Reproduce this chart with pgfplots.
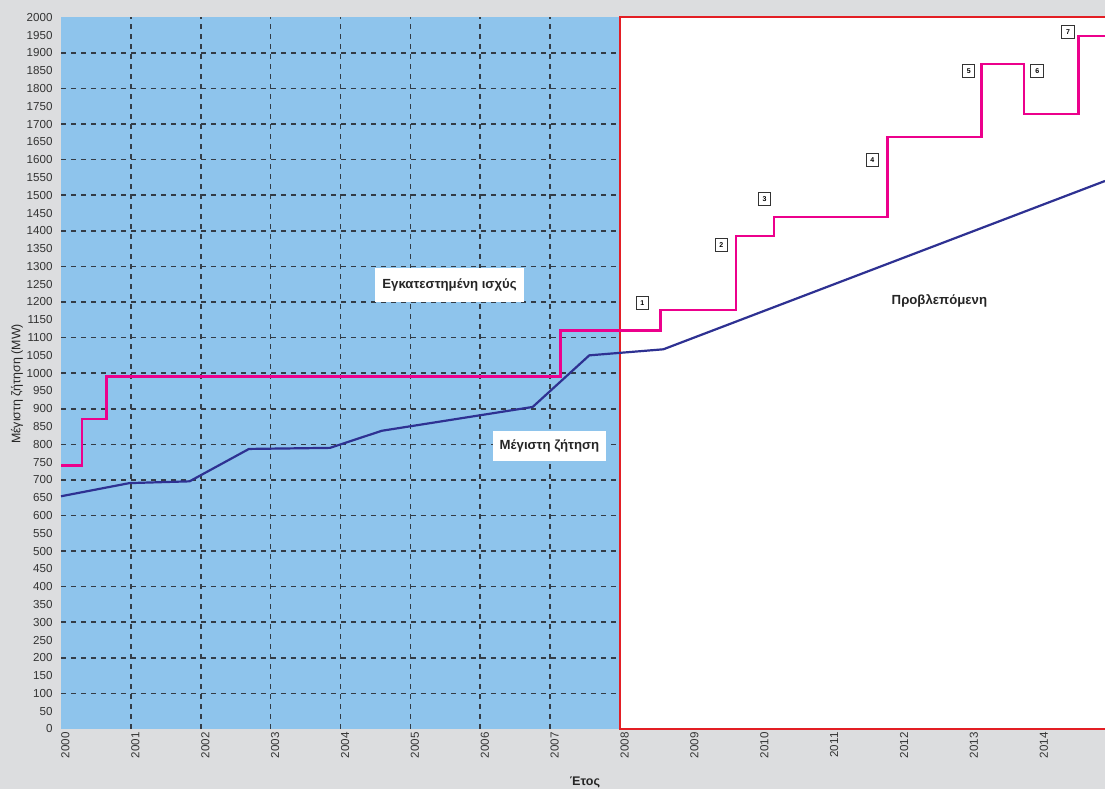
\documentclass[border=0pt]{standalone}
\usepackage{pgfplots}
\pgfplotsset{compat=1.18}
\usepackage{fontspec}
\setmainfont{Liberation Sans}
\definecolor{bggray}{HTML}{DCDDDF}
\definecolor{skyblue}{HTML}{8EC4EC}
\definecolor{pinkc}{HTML}{EC008C}
\definecolor{navyc}{HTML}{2E3192}
\definecolor{redc}{HTML}{E31E24}
\definecolor{gridc}{HTML}{333C46}
\begin{document}
\begin{tikzpicture}[x=1pt,y=1pt]
\path[use as bounding box, fill=bggray] (0,0) rectangle (1105,789);
\begin{axis}[
    at={(61pt,60pt)}, anchor=south west,
    scale only axis, width=1044pt, height=711.7pt,
    xmin=2000, xmax=2014.94, ymin=0, ymax=2000,
    axis line style={draw=none},
    axis background/.style={fill=skyblue},
    xtick={2000,2001,...,2014},
    ytick={0,50,...,2000},
    extra x ticks={2001,2002,...,2007}, extra x tick labels={},
    extra x tick style={grid=major},
    extra y ticks={100,200,...,1900}, extra y tick labels={},
    extra y tick style={grid=major},
    grid style={dash pattern=on 5pt off 5pt, line width=1.6pt, gridc},
    major tick length=0pt,
    /pgf/number format/1000 sep={},
    /pgf/number format/assume math mode=true,
    tick label style={font=\fontsize{11.6}{13}\selectfont, text=black!80},
    x tick label style={rotate=90, anchor=east, yshift=-4.5pt},
    y tick label style={xshift=-5pt},
    clip=false,
]
% forecast period, white with red frame
\fill[white] (axis cs:2008,0) rectangle (axis cs:2015.2,2000);
\draw[redc, line width=2pt] (axis cs:2015.2,0) -- (axis cs:2008,0) -- (axis cs:2008,2000) -- (axis cs:2015.2,2000);

% installed capacity
\addplot[const plot, pinkc, line width=2.4pt] coordinates {
    (2000,741) (2000.30,871) (2000.65,991) (2007.15,1120) (2008.58,1178)
    (2009.66,1385) (2010.20,1439) (2011.83,1664) (2013.17,1868)
    (2013.78,1729) (2014.56,1948) (2014.94,1948) };
% peak demand
\addplot[navyc, line width=2.2pt] coordinates {
    (2000,654) (2000.98,691) (2001.84,696) (2002.69,787) (2003.85,790)
    (2004.59,838) (2006.75,905) (2007.56,1050) (2008.62,1067) (2014.94,1540) };

\node[fill=white, inner xsep=7pt, inner ysep=11pt, font=\bfseries\fontsize{13.2}{15}\selectfont, text=black!85]
    at (axis cs:2005.56,1248) {Εγκατεστημένη ισχύς};
\node[fill=white, inner xsep=6.5pt, inner ysep=9pt, font=\bfseries\fontsize{13.2}{15}\selectfont, text=black!85]
    at (axis cs:2006.99,795) {Μέγιστη ζήτηση};
\node[font=\bfseries\fontsize{13.2}{15}\selectfont, text=black!85] at (axis cs:2012.57,1203) {Προβλεπόμενη};

\tikzset{nb/.style={draw=black!80, fill=white, line width=1pt, minimum size=12.5pt, inner sep=0pt, font=\bfseries\fontsize{7}{7}\selectfont}}
\node[nb] at (axis cs:2008.32,1197) {1};
\node[nb] at (axis cs:2009.45,1360) {2};
\node[nb] at (axis cs:2010.07,1489) {3};
\node[nb] at (axis cs:2011.61,1599) {4};
\node[nb] at (axis cs:2012.99,1849) {5};
\node[nb] at (axis cs:2013.97,1849) {6};
\node[nb] at (axis cs:2014.41,1958) {7};
\end{axis}
\node[rotate=90, font=\fontsize{12.4}{14}\selectfont, text=black!85] at (17,405) {Μέγιστη ζήτηση (MW)};
\node[font=\bfseries\fontsize{12.5}{14}\selectfont, text=black!85] at (585,7) {Έτος};
\end{tikzpicture}
\end{document}
